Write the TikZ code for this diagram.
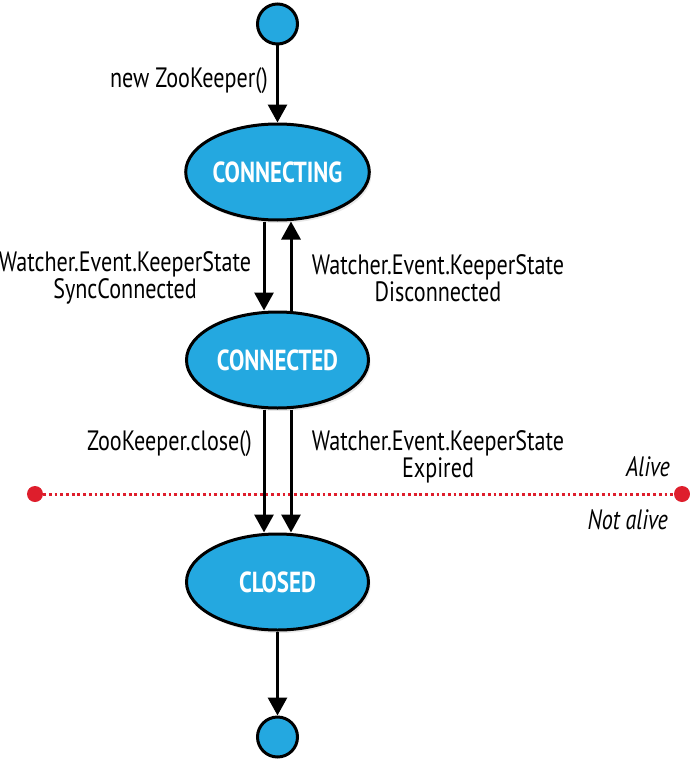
\documentclass[tikz,border=0pt]{standalone}
\usepackage{fontspec}
\setmainfont{PT Sans}[FakeStretch=0.79]
\usetikzlibrary{arrows.meta,shapes.geometric,shadows,calc}
\definecolor{stateblue}{RGB}{36,168,224}
\definecolor{linered}{RGB}{222,30,44}
\tikzset{
  state/.style={ellipse, draw=black, line width=3pt, fill=stateblue,
    minimum width=182pt, minimum height=96pt, inner sep=0pt,
    text=white, font=\fontsize{29}{30}\selectfont\bfseries,
    drop shadow={opacity=0.18, shadow xshift=2pt, shadow yshift=-3pt}},
  terminal/.style={circle, draw=black, line width=3pt, fill=stateblue,
    minimum size=40pt, inner sep=0pt},
  arr/.style={line width=3pt, -{Triangle[width=19pt,length=18pt]}},
  lbl/.style={font=\fontsize{28}{27}\selectfont, align=center, inner sep=0pt},
  side/.style={font=\fontsize{28}{27}\selectfont\itshape, inner sep=0pt},
  reddot/.style={circle, fill=linered, minimum size=16pt, inner sep=0pt}
}
\begin{document}
\begin{tikzpicture}[x=1pt,y=-1pt]
\useasboundingbox (0,0) rectangle (690,760);
% nodes
\node[terminal] (start) at (277.5,24) {};
\node[state] (connecting) at (277.5,172) {CONNECTING};
\node[state] (connected) at (277.5,360) {CONNECTED};
\node[state] (closed) at (277.5,582) {CLOSED};
\node[terminal] (stop) at (277.5,737) {};
% alive line
\node[reddot] (ldot) at (35,494) {};
\node[reddot] (rdot) at (682,494) {};
\draw[linered, line width=3pt, dash pattern=on 2.8pt off 2.9pt] (ldot) -- (rdot);
% arrows
\draw[arr] (start) -- (connecting);
\draw[arr] ($(connecting.south)+(-13.5,0)$) -- ($(connected.north)+(-13.5,0)$);
\draw[arr] ($(connected.north)+(13.5,0)$) -- ($(connecting.south)+(13.5,0)$);
\draw[arr] ($(connected.south)+(-13.5,0)$) -- ($(closed.north)+(-13.5,0)$);
\draw[arr] ($(connected.south)+(13.5,0)$) -- ($(closed.north)+(13.5,0)$);
\draw[arr] (closed) -- (stop);
% labels
\node[lbl, anchor=east] (lnew) at (268,81) {new ZooKeeper()};
\node[lbl] (lsync) at (125,278) {Watcher.Event.KeeperState\\SyncConnected};
\node[lbl] (ldisc) at (438,278) {Watcher.Event.KeeperState\\Disconnected};
\node[lbl, anchor=east] (lclose) at (252,444) {ZooKeeper.close()};
\node[lbl] (lexp) at (438,457) {Watcher.Event.KeeperState\\Expired};
\node[side, anchor=east] (lalive) at (670,467) {Alive};
\node[side, anchor=east] (lnot) at (668,520) {Not alive};
\end{tikzpicture}
\end{document}
